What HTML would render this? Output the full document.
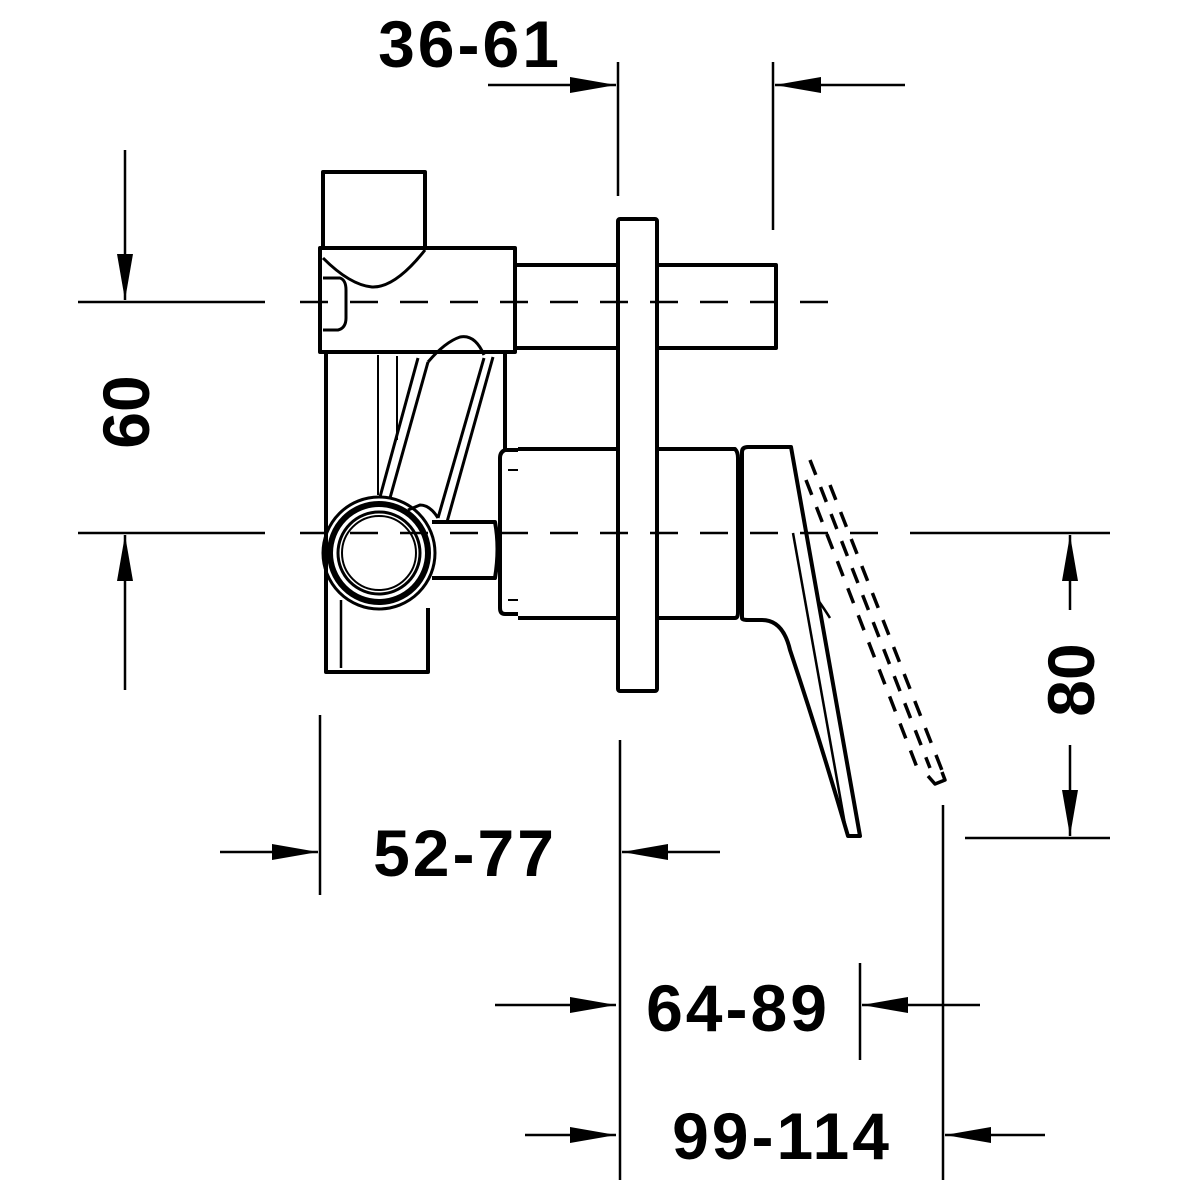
<!DOCTYPE html>
<html><head><meta charset="utf-8"><style>
html,body{margin:0;padding:0;background:#fff;}
svg{display:block;}
text{font-family:"Liberation Sans",sans-serif;font-weight:bold;font-size:66px;fill:#000;}
</style></head><body>
<svg width="1200" height="1200" viewBox="0 0 1200 1200" xmlns="http://www.w3.org/2000/svg">
<defs>
<marker id="ah" viewBox="0 0 10 10" refX="10" refY="5" markerWidth="46" markerHeight="16" markerUnits="userSpaceOnUse" orient="auto-start-reverse" preserveAspectRatio="none">
<path d="M0,0 L10,5 L0,10 Z" fill="#000"/></marker>
</defs>
<g stroke="#000" fill="none" stroke-width="2.5">
<line x1="618" y1="62" x2="618" y2="196"/>
<line x1="773" y1="62" x2="773" y2="230"/>
<line x1="78" y1="302" x2="265" y2="302"/>
<line x1="78" y1="533" x2="265" y2="533"/>
<line x1="965" y1="838" x2="1110" y2="838"/>
<line x1="320" y1="715" x2="320" y2="895"/>
<line x1="620" y1="740" x2="620" y2="1180"/>
<line x1="860" y1="963" x2="860" y2="1060"/>
<line x1="943" y1="805" x2="943" y2="1180"/>
<line x1="300" y1="302" x2="835" y2="302" stroke-dasharray="28,22"/>
<line x1="300" y1="533" x2="900" y2="533" stroke-dasharray="28,22"/>
<line x1="910" y1="533" x2="1110" y2="533"/>
<line x1="488" y1="85" x2="616" y2="85" marker-end="url(#ah)"/>
<line x1="905" y1="85" x2="775" y2="85" marker-end="url(#ah)"/>
<line x1="125" y1="150" x2="125" y2="300" marker-end="url(#ah)"/>
<line x1="125" y1="690" x2="125" y2="535" marker-end="url(#ah)"/>
<line x1="1070" y1="610" x2="1070" y2="535" marker-end="url(#ah)"/>
<line x1="1070" y1="745" x2="1070" y2="836" marker-end="url(#ah)"/>
<line x1="220" y1="852" x2="318" y2="852" marker-end="url(#ah)"/>
<line x1="720" y1="852" x2="622" y2="852" marker-end="url(#ah)"/>
<line x1="495" y1="1005" x2="616" y2="1005" marker-end="url(#ah)"/>
<line x1="980" y1="1005" x2="862" y2="1005" marker-end="url(#ah)"/>
<line x1="525" y1="1135" x2="616" y2="1135" marker-end="url(#ah)"/>
<line x1="1045" y1="1135" x2="945" y2="1135" marker-end="url(#ah)"/>
</g>
<g stroke="#000" fill="none" stroke-width="4" stroke-linejoin="round">
<path d="M323,248 L323,172 L425,172 L425,248"/>
<path d="M320,248 L515,248 L515,352 L320,352 Z"/>
<path d="M323,258 Q350,285 372,287 Q395,288 425,250" stroke-width="3"/>
<path d="M323,278 L340,278 Q346,280 346,290 L346,318 Q346,328 338,330 L323,330" stroke-width="3"/>
<path d="M326,352 L326,672 L428,672 L428,608"/>
<path d="M505,352 L505,450"/>
<line x1="341" y1="600" x2="341" y2="668" stroke-width="2.5"/>
<g stroke-width="3">
<line x1="378" y1="355" x2="378" y2="495" stroke-width="2"/>
<line x1="397" y1="356" x2="397" y2="440" stroke-width="2"/>
<line x1="418" y1="358" x2="380" y2="497"/>
<line x1="428" y1="362" x2="390" y2="498"/>
<line x1="493" y1="357" x2="447" y2="522"/>
<line x1="484" y1="358" x2="438" y2="518"/>
<path d="M428,362 Q445,342 460,337 Q475,334 484,355"/>
<path d="M438,518 Q430,505 420,505 L408,510"/>
</g>
<path d="M432,522 L495,522 Q500,548 495,578 L432,578"/>
<circle cx="379" cy="553" r="56" stroke-width="3"/>
<circle cx="379" cy="553" r="49" stroke-width="6"/>
<circle cx="379" cy="553" r="41" stroke-width="3"/>
<circle cx="379" cy="553" r="37" stroke-width="2"/>
<path d="M518,450 L505,450 Q500,452 500,458 L500,608 Q500,614 505,614 L518,614"/>
<line x1="508" y1="470" x2="518" y2="470" stroke-width="2"/>
<line x1="508" y1="600" x2="518" y2="600" stroke-width="2"/>
<path d="M515,265 L618,265 M657,265 L776,265 L776,348 L657,348 M618,348 L515,348"/>
<path d="M518,449 L618,449 M657,449 L735,449 Q738,452 738,458 L738,612 Q738,618 735,618 L657,618 M618,618 L518,618"/>
<rect x="618" y="219" width="39" height="472" rx="2"/>
<path d="M742,618 L742,452 Q742,447 748,447 L791,447 L860,836 L848,836 Q820,740 790,650 Q783,620 762,620 L748,620 Q742,620 742,618"/>
<line x1="793" y1="533" x2="846" y2="830" stroke-width="2.5"/>
<path d="M818,600 Q825,610 830,618" stroke-width="2.5"/>
<g stroke-width="3.5" stroke-dasharray="16,13">
<line x1="806" y1="480" x2="918" y2="770"/>
<line x1="810" y1="460" x2="930" y2="768"/>
<line x1="830" y1="485" x2="945" y2="778"/>
</g>
<path d="M928,776 L935,784 L945,780 L942,772" stroke-width="3.5"/>
</g>
<text x="470" y="67" text-anchor="middle" letter-spacing="3">36-61</text>
<text x="465" y="876" text-anchor="middle" letter-spacing="3">52-77</text>
<text x="738" y="1031" text-anchor="middle" letter-spacing="3">64-89</text>
<text x="782" y="1159" text-anchor="middle" letter-spacing="3">99-114</text>
<text transform="translate(149,412) rotate(-90)" text-anchor="middle">60</text>
<text transform="translate(1094,680) rotate(-90)" text-anchor="middle">80</text>
</svg>
</body></html>
